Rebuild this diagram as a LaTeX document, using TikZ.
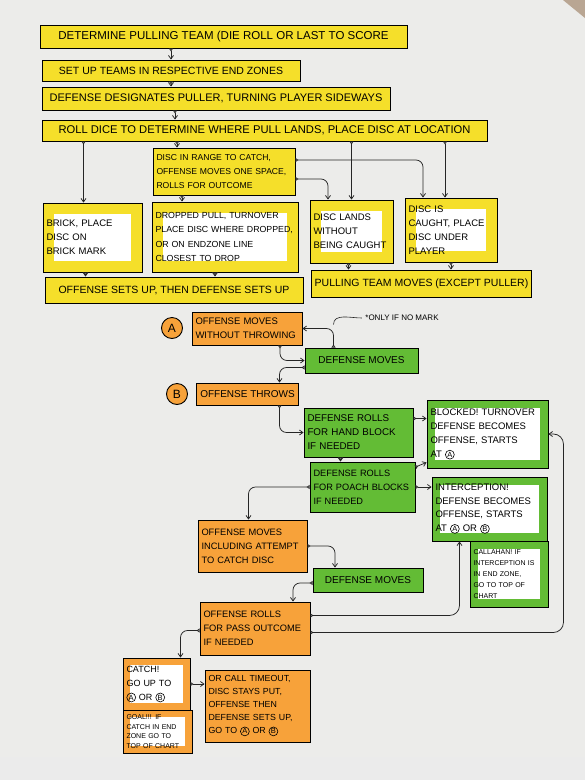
\documentclass[tikz,border=0pt]{standalone}
\usepackage{fontspec}
\setmainfont{Liberation Sans}
\usetikzlibrary{arrows.meta,calc}
\definecolor{hlY}{HTML}{F5DF2A}
\definecolor{hlO}{HTML}{F7A23A}
\definecolor{hlG}{HTML}{63BC35}
\definecolor{paper}{HTML}{ECECEA}
\newcommand\cl[1]{\tikz[baseline=(cc.base)]\node[draw=black,circle,fill=none,line width=0.6pt,inner sep=0.6pt,minimum size=0pt,path picture={},text width={},align=center,font=\fontsize{7.5}{8}\selectfont](cc){#1};}
\newcommand\bx[7]{%
  \pgfmathsetmacro\bxw{#4-#2}%
  \pgfmathsetmacro\bxh{#5-#3}%
  \pgfmathsetmacro\bxt{#4-#2-7}%
  \node[#6,minimum width=\bxw pt,minimum height=\bxh pt] (#1) at ({(#2+#4)/2},{(#3+#5)/2}) {#7};}
\tikzset{
  box/.style={draw=black,line width=0.9pt,inner xsep=3.5pt,inner ysep=3pt,align=left,
    font=\fontsize{9.5}{14}\selectfont},
  lj/.style={text width=\bxt pt},
  big/.style={font=\fontsize{10.5}{12}\selectfont},
  mid/.style={font=\fontsize{10}{12}\selectfont},
  yb/.style={box,fill=hlY},
  ob/.style={box,fill=hlO},
  gb/.style={box,fill=hlG},
  frame/.style={path picture={\fill[white] ([shift={(#1,-#1)}]path picture bounding box.north west) rectangle ([shift={(-#1,#1)}]path picture bounding box.south east);}},
  yf/.style={yb,frame=11pt},
  gf/.style={gb,frame=8pt},
  of/.style={ob,frame=7pt},
  letter/.style={draw=black,circle,fill=hlO,line width=0.9pt,minimum size=21pt,inner sep=0pt,font=\fontsize{12}{12}\selectfont},
  conn/.style={draw=black!85,line width=0.75pt,rounded corners=7pt,
    {Triangle[open,reversed,length=3pt,width=4pt]}-{Straight Barb[length=3.5pt,width=5pt]}}
}
\begin{document}
\begin{tikzpicture}[x=1pt,y=-1pt]
\fill[paper] (0,0) rectangle (585,780);
\useasboundingbox (0,0) rectangle (585,780);
\fill[brown!60!black!50] (563,0) -- (585,0) -- (585,18) -- cycle;
\fill[black!8] (0,757) rectangle (585,780);

% top section
\bx{n1}{40}{25}{407}{48}{yb,font=\fontsize{11.5}{13}\selectfont}{DETERMINE PULLING TEAM (DIE ROLL OR LAST TO SCORE}
\bx{n2}{42}{60}{300}{81}{yb,big}{SET UP TEAMS IN RESPECTIVE END ZONES}
\bx{n3}{42}{87}{390}{110}{yb,font=\fontsize{11}{13}\selectfont}{DEFENSE DESIGNATES PULLER, TURNING PLAYER SIDEWAYS}
\bx{n4}{42}{120}{487}{141}{yb,font=\fontsize{11.2}{13}\selectfont}{ROLL DICE TO DETERMINE WHERE PULL LANDS, PLACE DISC AT LOCATION}
\bx{n5}{153}{148}{295}{195}{yb,lj,font=\fontsize{8.6}{14}\selectfont}{DISC IN RANGE TO CATCH,\\OFFENSE MOVES ONE SPACE,\\ROLLS FOR OUTCOME}
\bx{n6}{43}{203}{142}{272}{yf,lj}{BRICK, PLACE\\DISC ON\\BRICK MARK}
\bx{n7}{152}{202}{298}{272}{yf,lj,font=\fontsize{8.8}{14.5}\selectfont}{DROPPED PULL, TURNOVER\\PLACE DISC WHERE DROPPED,\\OR ON ENDZONE LINE\\CLOSEST TO DROP}
\bx{n8}{310}{200}{393}{263}{yf,lj}{DISC LANDS\\WITHOUT\\BEING CAUGHT}
\bx{n9}{405}{198}{497}{262}{yf,lj}{DISC IS\\CAUGHT, PLACE\\DISC UNDER\\PLAYER}
\bx{n10}{45}{277}{303}{303}{yb,big}{OFFENSE SETS UP, THEN DEFENSE SETS UP}
\bx{n11}{313}{270}{530}{297}{yb,big}{PULLING TEAM MOVES (EXCEPT PULLER)}

\draw[conn] (n1.south -| n2.north) -- (n2.north);
\draw[conn] (n2.south) -- (n2.south |- n3.north);
\draw[conn] ([xshift=4pt]n2.south |- n3.south) -- ([xshift=4pt]n2.south |- n4.north);
\draw[conn] ([xshift=-47pt]n5.north |- n4.south) -- ([xshift=-47pt]n5.north);
\draw[conn] ([xshift=-9pt]n6.north |- n4.south) -- ([xshift=-9pt]n6.north);
\draw[conn] (n8.north |- n4.south) -- (n8.north);
\draw[conn] ([xshift=-6pt]n9.north |- n4.south) -- ([xshift=-6pt]n9.north);
\draw[conn] ([xshift=-43pt]n7.north |- n5.south) -- ([xshift=-43pt]n7.north);
\draw[conn] ([yshift=11.5pt]n5.east) -| ([xshift=-28pt]n9.north);
\draw[conn] ([yshift=-7.5pt]n5.east) -| ([xshift=-23.5pt]n8.north);
\draw[conn] ([xshift=-7pt]n6.south) -- ([xshift=-7pt]n6.south |- n10.north);
\draw[conn] ([xshift=-10pt]n7.south) -- ([xshift=-10pt]n7.south |- n10.north);
\draw[conn] ([xshift=-3pt]n8.south) -- ([xshift=-3pt]n8.south |- n11.north);
\draw[conn] (n9.south) -- (n9.south |- n11.north);

% lower section
\node[letter] (la) at (172,328) {A};
\node[letter] (lb) at (177,394) {B};
\bx{a1}{192}{312}{302}{345}{ob,lj}{OFFENSE MOVES\\WITHOUT THROWING}
\node[font=\fontsize{8}{9}\selectfont] (note) at (402,318) {*ONLY IF NO MARK};
\bx{d1}{305}{348}{418}{373}{gb,mid}{DEFENSE MOVES}
\bx{b1}{197}{383}{298}{405}{ob,mid}{OFFENSE THROWS}
\bx{h1}{304}{408}{413}{457}{gb,lj,font=\fontsize{9.8}{14}\selectfont}{DEFENSE ROLLS\\FOR HAND BLOCK\\IF NEEDED}
\bx{k1}{427}{400}{548}{468}{gf,lj}{BLOCKED! TURNOVER\\DEFENSE BECOMES\\OFFENSE, STARTS\\AT \cl{A}}
\bx{p1}{310}{462}{415}{512}{gb,lj,font=\fontsize{9.2}{14}\selectfont}{DEFENSE ROLLS\\FOR POACH BLOCKS\\IF NEEDED}
\bx{i1}{432}{477}{547}{541}{gf,lj,font=\fontsize{9.5}{13.5}\selectfont}{INTERCEPTION!\\DEFENSE BECOMES\\OFFENSE, STARTS\\AT \cl{A} OR \cl{B}}
\bx{cb}{470}{541}{548}{607}{gf,lj,font=\fontsize{7}{11}\selectfont}{CALLAHAN! IF\\INTERCEPTION IS\\IN END ZONE,\\GO TO TOP OF\\CHART}
\bx{m1}{198}{520}{307}{572}{ob,lj,font=\fontsize{9.3}{14}\selectfont}{OFFENSE MOVES\\INCLUDING ATTEMPT\\TO CATCH DISC}
\bx{d2}{313}{568}{423}{592}{gb,mid}{DEFENSE MOVES}
\bx{r1}{200}{602}{310}{655}{ob,lj,font=\fontsize{9.3}{14}\selectfont}{OFFENSE ROLLS\\FOR PASS OUTCOME\\IF NEEDED}
\bx{c1}{123}{658}{190}{710}{of,lj,font=\fontsize{9}{14}\selectfont}{CATCH!\\GO UP TO\\\cl{A} OR \cl{B}}
\bx{g1}{123}{710}{192}{753}{of,lj,font=\fontsize{7}{9.5}\selectfont}{GOAL!!! IF\\CATCH IN END\\ZONE GO TO\\TOP OF CHART}
\bx{t1}{205}{670}{310}{742}{ob,lj,font=\fontsize{8.8}{13}\selectfont}{OR CALL TIMEOUT,\\DISC STAYS PUT,\\OFFENSE THEN\\DEFENSE SETS UP,\\GO TO \cl{A} OR \cl{B}}

\draw[conn] ([xshift=33pt]a1.south) |- (d1.west);
\draw[conn] ([xshift=-28pt]d1.north) |- (a1.east);
\draw[line width=0.6pt,black!85] ([xshift=-28pt]d1.north |- a1.east) ++(0,-4) to[out=90,in=180] (note.west);
\draw[conn] ([yshift=-7pt]d1.west) -| ([xshift=32pt]b1.north);
\draw[conn] ([xshift=32pt]b1.south) |- (h1.west);
\draw[conn] ([yshift=14pt]h1.east) -- ([yshift=14pt]h1.east -| k1.west);
\draw[conn] ([xshift=-18pt]h1.south) -- ([xshift=-18pt]h1.south |- p1.north);
\draw[conn] ([yshift=20pt]p1.east) -- ([yshift=6pt]k1.south west);
\draw[conn] (p1.east) -- (p1.east -| i1.west);
\draw[conn] (p1.west) -| ([xshift=-4pt]m1.north);
\draw[conn] (m1.east) -| ([xshift=-33pt]d2.north);
\draw[conn] ([yshift=-3pt]d2.west) -| ([xshift=38pt]r1.north);
\draw[conn,rounded corners=10pt] ([yshift=13pt]r1.east) -| ([xshift=-30pt]i1.south);
\draw[conn,rounded corners=10pt] ([yshift=-4pt]r1.east) -| ([xshift=15pt]k1.east) -- (k1.east);
\draw[conn] ([yshift=-2pt]r1.west) -| ([xshift=24pt]c1.north);
\draw[conn] (c1.east) -- (c1.east -| t1.west);
\end{tikzpicture}
\end{document}
